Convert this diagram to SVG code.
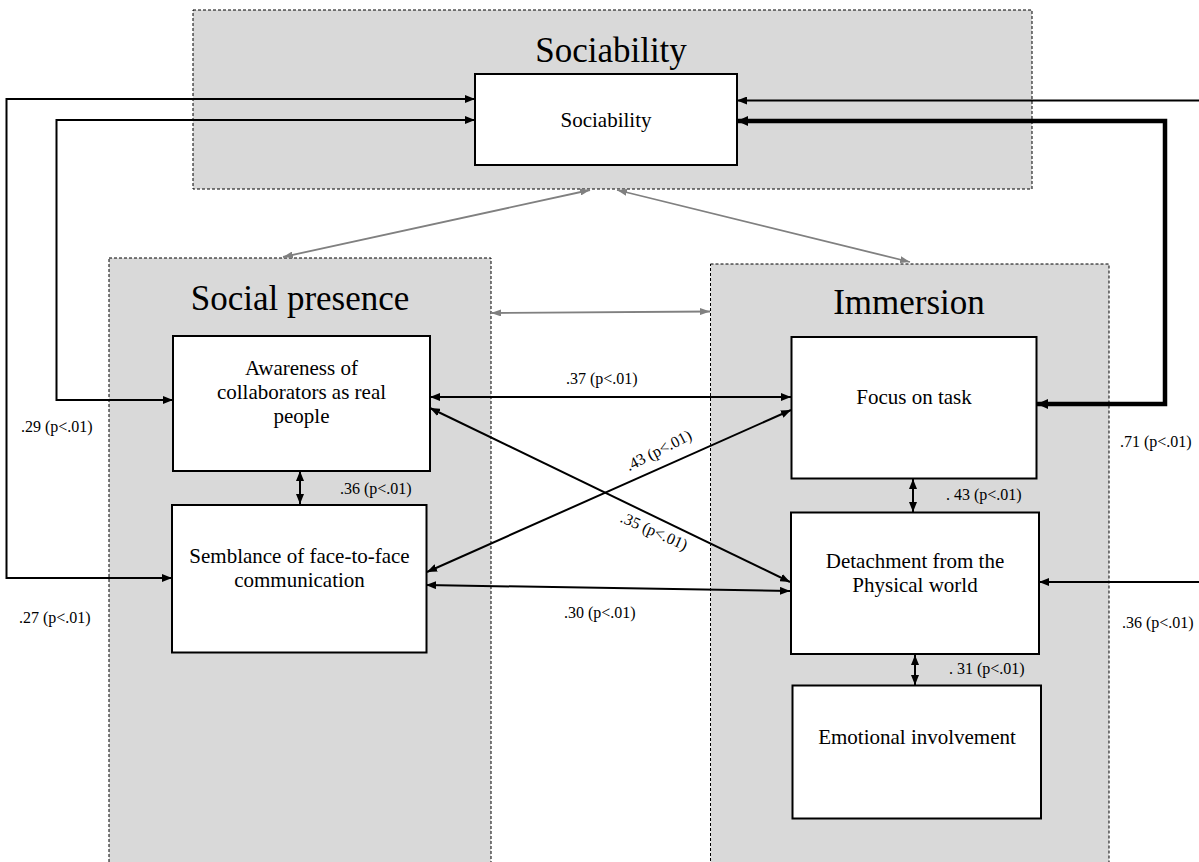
<svg xmlns="http://www.w3.org/2000/svg" width="1199" height="862" viewBox="0 0 1199 862">
  <style>
    .grp { fill: #d9d9d9; stroke: #000; stroke-width: 1; stroke-dasharray: 3 2; }
    .box { fill: #fff; stroke: #000; stroke-width: 2; }
    .title { font-family: "Liberation Serif", "Times New Roman", serif; font-size: 35px; fill: #000; text-anchor: middle; }
    .txt { font-family: "Liberation Serif", "Times New Roman", serif; font-size: 21px; fill: #000; text-anchor: middle; }
    .lbl { font-family: "Liberation Serif", "Times New Roman", serif; font-size: 16px; fill: #000; }
    .lblc { font-family: "Liberation Serif", "Times New Roman", serif; font-size: 16px; fill: #000; text-anchor: middle; }
    .ln { fill: none; stroke: #000; stroke-width: 2; marker-start: url(#ah); marker-end: url(#ah); }
    .one { fill: none; stroke: #000; stroke-width: 2; marker-end: url(#ah); }
    .thick { fill: none; stroke: #000; stroke-width: 4.5; marker-start: url(#ahBig); marker-end: url(#ahBig); }
    .gray { fill: none; stroke: #808080; stroke-width: 1.8; marker-start: url(#ahGray); marker-end: url(#ahGray); }
  </style>
  <defs>
    <marker id="ah" viewBox="0 0 10 8" refX="10" refY="4" markerWidth="10" markerHeight="8" markerUnits="userSpaceOnUse" orient="auto-start-reverse">
      <path d="M0,0 L10,4 L0,8 z" fill="#000"/>
    </marker>
    <marker id="ahBig" viewBox="0 0 11 10" refX="11" refY="5" markerWidth="11" markerHeight="10" markerUnits="userSpaceOnUse" orient="auto-start-reverse">
      <path d="M0,0 L11,5 L0,10 z" fill="#000"/>
    </marker>
    <marker id="ahGray" viewBox="0 0 10 7" refX="10" refY="3.5" markerWidth="10" markerHeight="7" markerUnits="userSpaceOnUse" orient="auto-start-reverse">
      <path d="M0,0 L10,3.5 L0,7 z" fill="#808080"/>
    </marker>
  </defs>

  <!-- construct panels -->
  <g id="panel-sociability">
    <rect class="grp" x="193" y="10" width="839" height="179"/>
    <text class="title" x="611" y="62">Sociability</text>
  </g>
  <g id="panel-social-presence">
    <rect class="grp" x="109" y="258" width="382" height="620"/>
    <text class="title" x="300" y="310">Social presence</text>
  </g>
  <g id="panel-immersion">
    <rect class="grp" x="710.5" y="264" width="398.5" height="610"/>
    <text class="title" x="909" y="314">Immersion</text>
  </g>

  <!-- connectors -->
  <g id="connectors">
    <!-- panel-level links -->
    <path class="gray" d="M590,190 L283,257"/>
    <path class="gray" d="M617,190 L910,262"/>
    <path class="gray" d="M491,313 L710,311.5"/>

    <!-- left loops into Sociability -->
    <path class="ln" d="M475,99 H6.5 V578 H172"/>
    <path class="ln" d="M475,120 H56.5 V400 H173"/>

    <!-- right links into Sociability -->
    <path class="one" d="M1199,100.5 H737"/>
    <path class="thick" d="M737,121 H1165 V404 H1037"/>
    <path class="one" d="M1199,582 H1039"/>

    <!-- within panels -->
    <path class="ln" d="M300,471 V504"/>
    <path class="ln" d="M913,479 V512"/>
    <path class="ln" d="M915,655 V685"/>

    <!-- cross-panel correlations -->
    <path class="ln" d="M430,397 H791"/>
    <path class="ln" d="M430,408 L790,582"/>
    <path class="ln" d="M427,572 L791,410"/>
    <path class="ln" d="M426,585 L790,591"/>

    <!-- coefficients -->
    <text class="lbl" x="21" y="432">.29 (p&lt;.01)</text>
    <text class="lbl" x="19" y="623">.27 (p&lt;.01)</text>
    <text class="lbl" x="340" y="494">.36 (p&lt;.01)</text>
    <text class="lbl" x="566" y="384">.37 (p&lt;.01)</text>
    <text class="lbl" x="564" y="618">.30 (p&lt;.01)</text>
    <text class="lblc" transform="translate(661,455) rotate(-27)">.43 (p&lt;.01)</text>
    <text class="lblc" transform="translate(652,536) rotate(24)">.35 (p&lt;.01)</text>
    <text class="lbl" x="946" y="500">. 43 (p&lt;.01)</text>
    <text class="lbl" x="949" y="674">. 31 (p&lt;.01)</text>
    <text class="lbl" x="1120" y="447">.71 (p&lt;.01)</text>
    <text class="lbl" x="1122" y="628">.36 (p&lt;.01)</text>
  </g>

  <!-- nodes -->
  <g id="node-sociability">
    <rect class="box" x="475" y="74" width="262" height="91"/>
    <text class="txt" x="606" y="127">Sociability</text>
  </g>
  <g id="node-awareness">
    <rect class="box" x="173" y="336" width="257" height="135"/>
    <text class="txt" x="301.5" y="375">Awareness of</text>
    <text class="txt" x="301.5" y="399">collaborators as real</text>
    <text class="txt" x="301.5" y="423">people</text>
  </g>
  <g id="node-semblance">
    <rect class="box" x="172" y="505" width="254.5" height="147.5"/>
    <text class="txt" x="299.5" y="563">Semblance of face-to-face</text>
    <text class="txt" x="299.5" y="587">communication</text>
  </g>
  <g id="node-focus">
    <rect class="box" x="791.5" y="337" width="245" height="141.5"/>
    <text class="txt" x="914" y="404">Focus on task</text>
  </g>
  <g id="node-detachment">
    <rect class="box" x="791" y="512.5" width="248" height="141.5"/>
    <text class="txt" x="915" y="568">Detachment from the</text>
    <text class="txt" x="915" y="592">Physical world</text>
  </g>
  <g id="node-emotional">
    <rect class="box" x="792.5" y="685.5" width="248.5" height="133"/>
    <text class="txt" x="917" y="744">Emotional involvement</text>
  </g>
</svg>
